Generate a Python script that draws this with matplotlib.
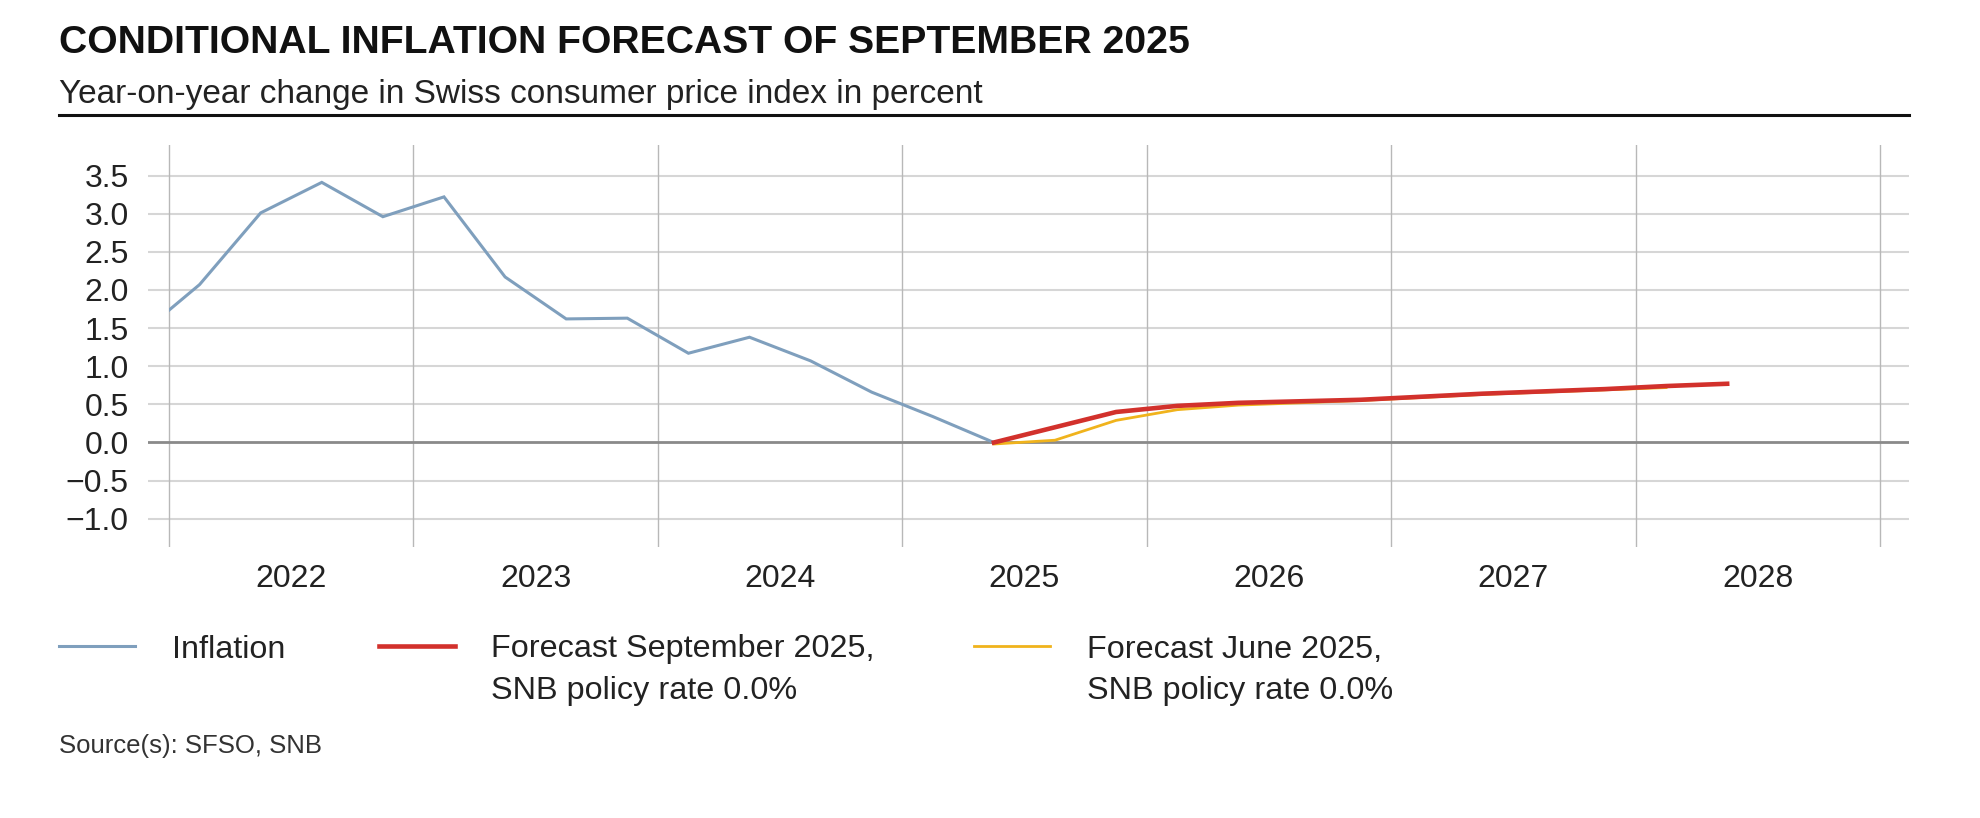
import numpy as np
import matplotlib
matplotlib.use('Agg')
import matplotlib.pyplot as plt
from matplotlib.lines import Line2D
from matplotlib.patches import Rectangle

plt.rcParams['font.family'] = ['Liberation Sans', 'DejaVu Sans']

# quarterly data, x = middle of quarter
infl_quarters = ['2021Q4', '2022Q1', '2022Q2', '2022Q3', '2022Q4',
                 '2023Q1', '2023Q2', '2023Q3', '2023Q4',
                 '2024Q1', '2024Q2', '2024Q3', '2024Q4',
                 '2025Q1', '2025Q2']
infl_values = [1.4, 2.07, 3.01, 3.41, 2.96,
               3.22, 2.17, 1.62, 1.63,
               1.17, 1.38, 1.07, 0.66,
               0.34, 0.0]

sep_quarters = ['2025Q2', '2025Q3', '2025Q4', '2026Q1', '2026Q2', '2026Q3', '2026Q4',
                '2027Q1', '2027Q2', '2027Q3', '2027Q4', '2028Q1', '2028Q2']
sep_values = [0.0, 0.2, 0.4, 0.48, 0.52, 0.54, 0.56,
              0.60, 0.64, 0.67, 0.70, 0.74, 0.77]

jun_quarters = ['2025Q2', '2025Q3', '2025Q4', '2026Q1', '2026Q2', '2026Q3', '2026Q4',
                '2027Q1', '2027Q2', '2027Q3', '2027Q4', '2028Q1']
jun_values = [-0.02, 0.03, 0.29, 0.43, 0.49, 0.52, 0.55,
              0.59, 0.63, 0.66, 0.69, 0.72]

years = [2022, 2023, 2024, 2025, 2026, 2027, 2028]
yticks = [-1.0, -0.5, 0.0, 0.5, 1.0, 1.5, 2.0, 2.5, 3.0, 3.5]


def qpos(q):
    return int(q[:4]) + (int(q[-1]) - 0.5) / 4


W, H = 1980, 818
fig = plt.figure(figsize=(W / 100, H / 100), dpi=100)


def fx(px):
    return px / W


def fy(py):
    return 1 - py / H


ax = fig.add_axes([fx(148), fy(547), fx(1909) - fx(148), fy(145) - fy(547)])
ax.set_xlim(2021.914, 2029.119)
ax.set_ylim(-1.37, 3.9)
for s in ax.spines.values():
    s.set_visible(False)

for y in yticks:
    if y == 0:
        ax.axhline(y, color='#8a8a8a', lw=2.0, zorder=2)
    else:
        ax.axhline(y, color='#d6d6d6', lw=1.5, zorder=1)
for yr in range(2022, 2030):
    ax.axvline(yr, color='#b8b8b8', lw=1.0, zorder=1)

ax.set_yticks(yticks)
ax.set_yticklabels([f'{v:.1f}'.replace('-', '\u2212') for v in yticks])
ax.set_xticks([y + 0.5 for y in years])
ax.set_xticklabels([str(y) for y in years])
ax.tick_params(axis='both', length=0, labelsize=23, colors='#222222')
ax.tick_params(axis='y', pad=14)
ax.tick_params(axis='x', pad=12)

infl_line, = ax.plot([qpos(q) for q in infl_quarters], infl_values,
                     color='#7f9fbd', lw=2.2, zorder=3, solid_joinstyle='miter')
clip = Rectangle((2022.0, -5), 10, 10, transform=ax.transData)
infl_line.set_clip_path(clip)
ax.plot([qpos(q) for q in jun_quarters], jun_values, color='#f0b31c', lw=2.0, zorder=4)
ax.plot([qpos(q) for q in sep_quarters], sep_values, color='#d2312c', lw=3.3, zorder=5)

# titles
fig.text(fx(59), fy(43), 'CONDITIONAL INFLATION FORECAST OF SEPTEMBER 2025',
         fontsize=28.2, fontweight='bold', color='#111111', va='center', ha='left')
fig.text(fx(59), fy(94), 'Year-on-year change in Swiss consumer price index in percent',
         fontsize=24, color='#222222', va='center', ha='left')
fig.add_artist(Line2D([fx(59), fx(1909)], [fy(115), fy(115)], color='#111111', lw=2.2))

# legend
legend_items = [
    (59, '#7f9fbd', 2.2, 172, ['Inflation']),
    (379, '#d2312c', 3.3, 491, ['Forecast September 2025,', 'SNB policy rate 0.0%']),
    (974, '#f0b31c', 2.0, 1087, ['Forecast June 2025,', 'SNB policy rate 0.0%']),
]
for x0, col, lw, tx, lines in legend_items:
    fig.add_artist(Line2D([fx(x0), fx(x0 + 76)], [fy(646), fy(646)], color=col, lw=lw))
    for i, txt in enumerate(lines):
        fig.text(fx(tx), fy(646 + 42 * i), txt, fontsize=23.3, color='#222222',
                 va='center_baseline', ha='left')

fig.text(fx(59), fy(746), 'Source(s): SFSO, SNB', fontsize=18.5, color='#333333',
         va='center', ha='left')

fig.savefig('out.png', dpi=100, facecolor='white')
